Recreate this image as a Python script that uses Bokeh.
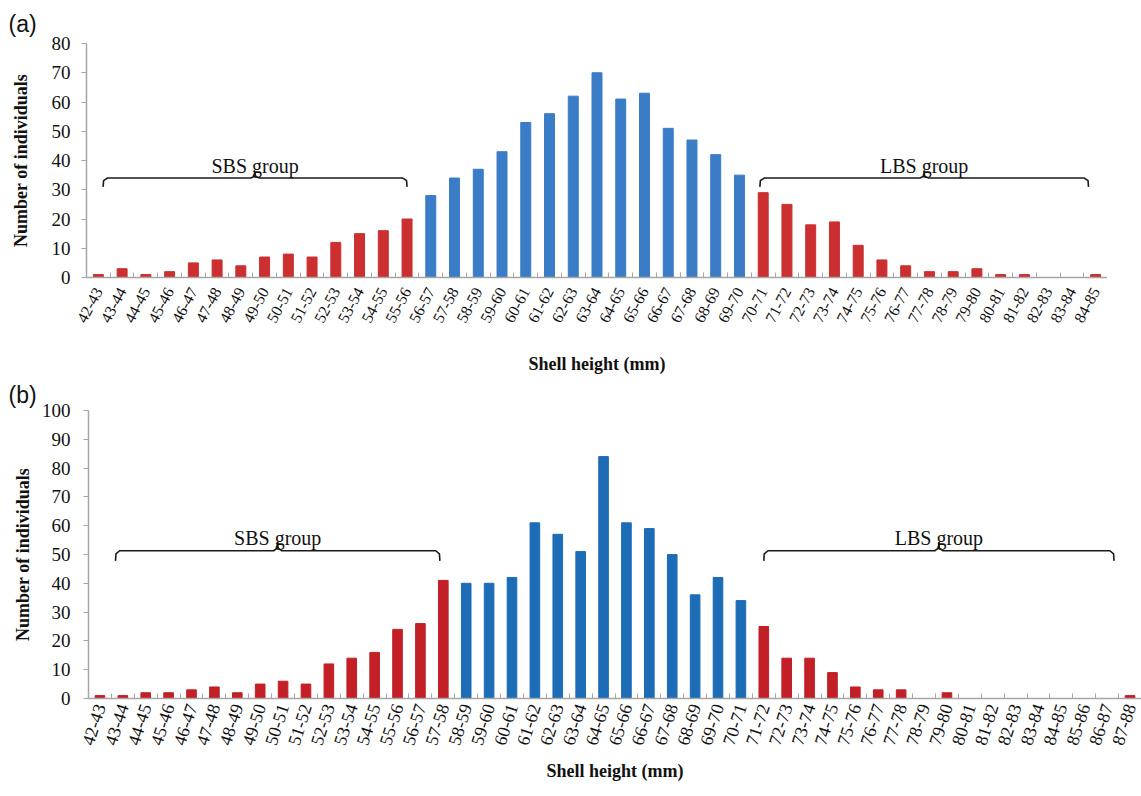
from bokeh.plotting import figure
from bokeh.layouts import column, row
from bokeh.models import Range1d, FixedTicker, ColumnDataSource, Spacer
from bokeh.core.properties import value
from bokeh.embed import file_html
from bokeh.resources import INLINE
import math

# ---------------- data ----------------
a_bins = ["42-43", "43-44", "44-45", "45-46", "46-47", "47-48", "48-49", "49-50", "50-51",
          "51-52", "52-53", "53-54", "54-55", "55-56", "56-57", "57-58", "58-59", "59-60",
          "60-61", "61-62", "62-63", "63-64", "64-65", "65-66", "66-67", "67-68", "68-69",
          "69-70", "70-71", "71-72", "72-73", "73-74", "74-75", "75-76", "76-77", "77-78",
          "78-79", "79-80", "80-81", "81-82", "82-83", "83-84", "84-85"]
a_counts = [1, 3, 1, 2, 5, 6, 4, 7, 8, 7, 12, 15, 16, 20,
            28, 34, 37, 43, 53, 56, 62, 70, 61, 63, 51, 47, 42, 35,
            29, 25, 18, 19, 11, 6, 4, 2, 2, 3, 1, 1, 0, 0, 1]
a_sbs_last = "55-56"
a_lbs_first = "70-71"

b_bins = ["42-43", "43-44", "44-45", "45-46", "46-47", "47-48", "48-49", "49-50", "50-51",
          "51-52", "52-53", "53-54", "54-55", "55-56", "56-57", "57-58", "58-59", "59-60",
          "60-61", "61-62", "62-63", "63-64", "64-65", "65-66", "66-67", "67-68", "68-69",
          "69-70", "70-71", "71-72", "72-73", "73-74", "74-75", "75-76", "76-77", "77-78",
          "78-79", "79-80", "80-81", "81-82", "82-83", "83-84", "84-85", "85-86", "86-87",
          "87-88"]
b_counts = [1, 1, 2, 2, 3, 4, 2, 5, 6, 5, 12, 14, 16, 24, 26, 41,
            40, 40, 42, 61, 57, 51, 84, 61, 59, 50, 36, 42, 34,
            25, 14, 14, 9, 4, 3, 3, 0, 2, 0, 0, 0, 0, 0, 0, 0, 1]
b_sbs_last = "57-58"
b_lbs_first = "71-72"

# bracket extents (in bin-index units) and heights (in count units)
a_brackets = [("SBS group", 0.2, 13.0), ("LBS group", 27.86, 41.7)]
a_bracket_y = 34
b_brackets = [("SBS group", 0.68, 14.85), ("LBS group", 29.0, 44.3)]
b_bracket_y = 51.3

SERIF = "Liberation Serif"
AXIS_GRAY = "#A6A6A6"


def make_panel(label, bins, counts, sbs_last, lbs_first, ymax, red, blue,
               brackets, br_y, hook, peak, text_y,
               width, height, border_top, border_bottom, border_left,
               ytitle_standoff, ylabel_standoff, xtitle_standoff, title_standoff,
               xlab_size, xlab_angle, xlab_standoff):
    n = len(bins)
    i_sbs = bins.index(sbs_last)
    i_lbs = bins.index(lbs_first)
    colors = [red if (i <= i_sbs or i >= i_lbs) else blue for i in range(n)]
    src = ColumnDataSource(dict(x=list(range(n)), top=counts, color=colors))

    p = figure(width=width, height=height, output_backend="svg", toolbar_location=None,
               x_range=Range1d(-0.5, n - 0.5), y_range=Range1d(0, ymax),
               min_border_top=border_top, min_border_bottom=border_bottom,
               min_border_left=border_left, min_border_right=0)
    p.vbar(x="x", top="top", width=0.42, color="color", source=src)

    # brackets
    for text, x0, x1 in brackets:
        xm = (x0 + x1) / 2
        dx = 0.18
        xs = [x0, x0 + 0.02, x0 + dx, xm - dx, xm - 0.02, xm, xm + 0.02, xm + dx,
              x1 - dx, x1 - 0.02, x1]
        ys = [br_y - hook, br_y - hook * 0.3, br_y, br_y, br_y + peak * 0.3, br_y + peak,
              br_y + peak * 0.3, br_y, br_y, br_y - hook * 0.3, br_y - hook]
        p.line(xs, ys, line_color="#1a1a1a", line_width=1.6)
        p.text(x=[xm], y=[text_y], text=[text], text_font=value(SERIF),
               text_font_size="20px", text_align="center", text_baseline="alphabetic",
               text_color="#111111")

    p.grid.visible = False
    p.outline_line_color = None
    p.background_fill_color = "white"
    p.border_fill_color = "white"

    # x axis
    xa = p.xaxis[0]
    xa.ticker = FixedTicker(ticks=list(range(n)),
                            minor_ticks=[i - 0.5 for i in range(n + 1)])
    xa.major_label_overrides = {i: b for i, b in enumerate(bins)}
    xa.major_label_orientation = math.radians(xlab_angle)
    xa.major_label_text_font = SERIF
    xa.major_label_text_font_size = xlab_size
    xa.major_label_text_color = "#111111"
    xa.major_label_standoff = xlab_standoff
    xa.major_tick_line_color = None
    xa.major_tick_in = 0
    xa.major_tick_out = 0
    xa.minor_tick_line_color = AXIS_GRAY
    xa.minor_tick_in = 5
    xa.minor_tick_out = 0
    xa.axis_line_color = AXIS_GRAY
    xa.axis_line_width = 1.5
    xa.axis_label = "Shell height (mm)"
    xa.axis_label_text_font = SERIF
    xa.axis_label_text_font_size = "18px"
    xa.axis_label_text_font_style = "bold"
    xa.axis_label_text_color = "#111111"
    xa.axis_label_standoff = xtitle_standoff

    # y axis
    ya = p.yaxis[0]
    ya.ticker = FixedTicker(ticks=list(range(0, ymax + 1, 10)))
    ya.major_label_text_font = SERIF
    ya.major_label_text_font_size = "19px"
    ya.major_label_text_color = "#111111"
    ya.major_label_standoff = ylabel_standoff
    ya.major_tick_line_color = AXIS_GRAY
    ya.major_tick_out = 5
    ya.major_tick_in = 0
    ya.minor_tick_line_color = None
    ya.axis_line_color = AXIS_GRAY
    ya.axis_line_width = 1.5
    ya.axis_label = "Number of individuals"
    ya.axis_label_text_font = SERIF
    ya.axis_label_text_font_size = "18px"
    ya.axis_label_text_font_style = "bold"
    ya.axis_label_text_color = "#111111"
    ya.axis_label_standoff = ytitle_standoff

    # panel label
    p.title.text = label
    p.title.text_font = "Liberation Sans"
    p.title.text_font_size = "23px"
    p.title.text_font_style = "normal"
    p.title.text_color = "#111111"
    p.title.align = "left"
    p.title.offset = -(border_left - 8)
    p.title.standoff = title_standoff
    return p


pa = make_panel("(a)", a_bins, a_counts, a_sbs_last, a_lbs_first, 80,
                "#CB2F30", "#3A7CC6", a_brackets, a_bracket_y, 3.0, 2.0, 38.2,
                1107, 376, 43, 99, 86, 18, 11, 24, 13,
                "16px", 62, 11)
pb = make_panel("(b)", b_bins, b_counts, b_sbs_last, b_lbs_first, 100,
                "#C21F27", "#1C6CB6", b_brackets, b_bracket_y, 3.5, 3.0, 55.9,
                1141, 420, 33, 98, 88, 6, 13, 10, 6,
                "18px", 72, 6)

layout = column(row(pa, Spacer(width=34, height=376)), pb, spacing=0)
open("out.html", "w").write(file_html(layout, INLINE))
